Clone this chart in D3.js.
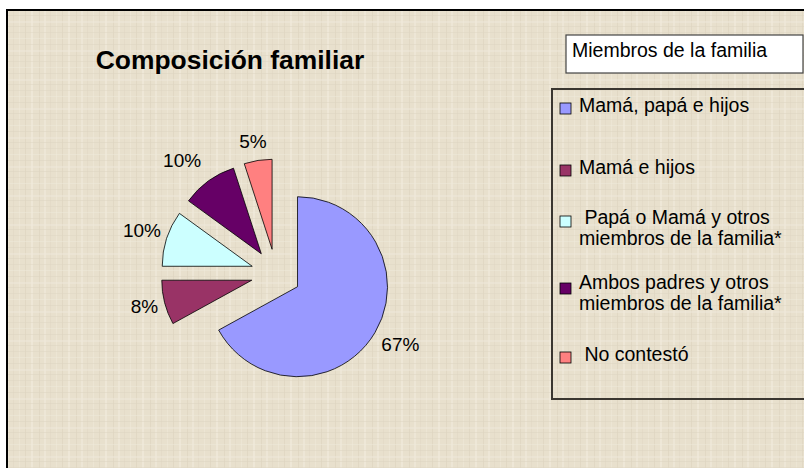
<!DOCTYPE html>
<html>
<head>
<meta charset="utf-8">
<script src="https://cdn.jsdelivr.net/npm/d3@7"></script>
<style>
  body { margin: 0; background: #ffffff; }
  svg { display: block; font-family: "Liberation Sans", Arial, sans-serif; }
</style>
</head>
<body>
<svg id="chart" width="804" height="468"></svg>
<script>
// data
var categories = ["Mamá, papá e hijos", "Mamá e hijos", "Papá o Mamá y otros miembros de la familia*",
                  "Ambos padres y otros miembros de la familia*", "No contestó"];
var legendLines = [["Mamá, papá e hijos"], ["Mamá e hijos"], [" Papá o Mamá y otros", "miembros de la familia*"],
                   ["Ambos padres y otros", "miembros de la familia*"], [" No contestó"]];
var values = [67, 8, 10, 10, 5];
var labels = ["67%", "8%", "10%", "10%", "5%"];
var colors = ["#9999FF", "#993366", "#CCFFFF", "#660066", "#FF8080"];

var svg = d3.select("#chart");
var defs = svg.append("defs");

// linen texture (decoration only)
var pat = defs.append("pattern")
    .attr("id", "linen")
    .attr("patternUnits", "userSpaceOnUse")
    .attr("width", 37).attr("height", 29);
pat.append("rect").attr("width", 37).attr("height", 29).attr("fill", "#E8E0CD");
var vlines = [[2, "#DAD0BC", 1], [7, "#F2ECDF", 2], [13, "#DFD6C3", 1], [19, "#F0E9DB", 1], [25, "#D9CFBB", 1], [31, "#F3EEE2", 2]];
var hlines = [[3, "#DED5C1", 1], [9, "#F1EBDD", 1], [15, "#DBD2BE", 1], [21, "#F0EADC", 2], [26, "#DDD4C0", 1]];
vlines.forEach(function(l) {
    pat.append("rect").attr("x", l[0]).attr("y", 0).attr("width", l[2]).attr("height", 29)
        .attr("fill", l[1]).attr("opacity", 0.5);
});
hlines.forEach(function(l) {
    pat.append("rect").attr("x", 0).attr("y", l[0]).attr("width", 37).attr("height", l[2])
        .attr("fill", l[1]).attr("opacity", 0.45);
});

// chart area
svg.append("rect")
    .attr("x", 7).attr("y", 10)
    .attr("width", 820).attr("height", 480)
    .attr("fill", "url(#linen)")
    .attr("stroke", "#000").attr("stroke-width", 2);

// title
svg.append("text")
    .attr("x", 230).attr("y", 69)
    .attr("text-anchor", "middle")
    .attr("font-size", "26.4px")
    .attr("font-weight", "bold")
    .text("Composición familiar");

// pie
var cx = 276, cy = 274, radius = 90, explode = 25, labelR = 116;
// small label nudges, like excel's auto placement
var nudge = [[3, -2], [5, -3], [0, 0], [-11, 0], [-1, 6]];

var pie = d3.pie().sort(null).value(function(d) { return d; });
var arc = d3.arc().innerRadius(0).outerRadius(radius);
var arcs = pie(values);

var pieG = svg.append("g").attr("transform", "translate(" + cx + "," + cy + ")");

function offset(d, r) {
    var a = (d.startAngle + d.endAngle) / 2;
    return [Math.sin(a) * r, -Math.cos(a) * r];
}

pieG.selectAll("path.slice")
    .data(arcs)
    .enter()
    .append("path")
    .attr("class", "slice")
    .attr("d", arc)
    .attr("transform", function(d) {
        var o = offset(d, explode);
        return "translate(" + o[0] + "," + o[1] + ")";
    })
    .attr("fill", function(d, i) { return colors[i]; })
    .attr("stroke", "#000")
    .attr("stroke-width", 0.8);

pieG.selectAll("text.lbl")
    .data(arcs)
    .enter()
    .append("text")
    .attr("class", "lbl")
    .attr("x", function(d, i) { return offset(d, explode)[0] + offset(d, labelR)[0] + nudge[i][0]; })
    .attr("y", function(d, i) { return offset(d, explode)[1] + offset(d, labelR)[1] + 7 + nudge[i][1]; })
    .attr("text-anchor", "middle")
    .attr("font-size", "19px")
    .attr("fill", "#000")
    .text(function(d, i) { return labels[i]; });

// legend title box
svg.append("rect")
    .attr("x", 566).attr("y", 35)
    .attr("width", 237).attr("height", 38)
    .attr("fill", "#fff")
    .attr("stroke", "#444").attr("stroke-width", 1.2);
svg.append("text")
    .attr("x", 572).attr("y", 57)
    .attr("font-size", "19.5px")
    .text("Miembros de la familia");

// legend box
svg.append("rect")
    .attr("x", 552).attr("y", 89)
    .attr("width", 270).attr("height", 310)
    .attr("fill", "none")
    .attr("stroke", "#3a3630").attr("stroke-width", 2);

var textY = [112, 174, 224, 289, 361];
var swatchY = [103, 165, 216, 283, 352];
var items = svg.append("g").selectAll("g.item")
    .data(categories)
    .enter()
    .append("g")
    .attr("class", "item");

items.append("rect")
    .attr("x", 560)
    .attr("y", function(d, i) { return swatchY[i]; })
    .attr("width", 11).attr("height", 11)
    .attr("fill", function(d, i) { return colors[i]; })
    .attr("stroke", "#000").attr("stroke-width", 0.8);

items.each(function(d, i) {
    var t = d3.select(this).append("text")
        .attr("font-size", "19.5px")
        .attr("x", 579)
        .attr("y", textY[i])
        .style("white-space", "pre");
    legendLines[i].forEach(function(line, j) {
        t.append("tspan")
            .attr("x", 579)
            .attr("dy", j === 0 ? 0 : 21)
            .text(line);
    });
});
</script>
</body>
</html>
